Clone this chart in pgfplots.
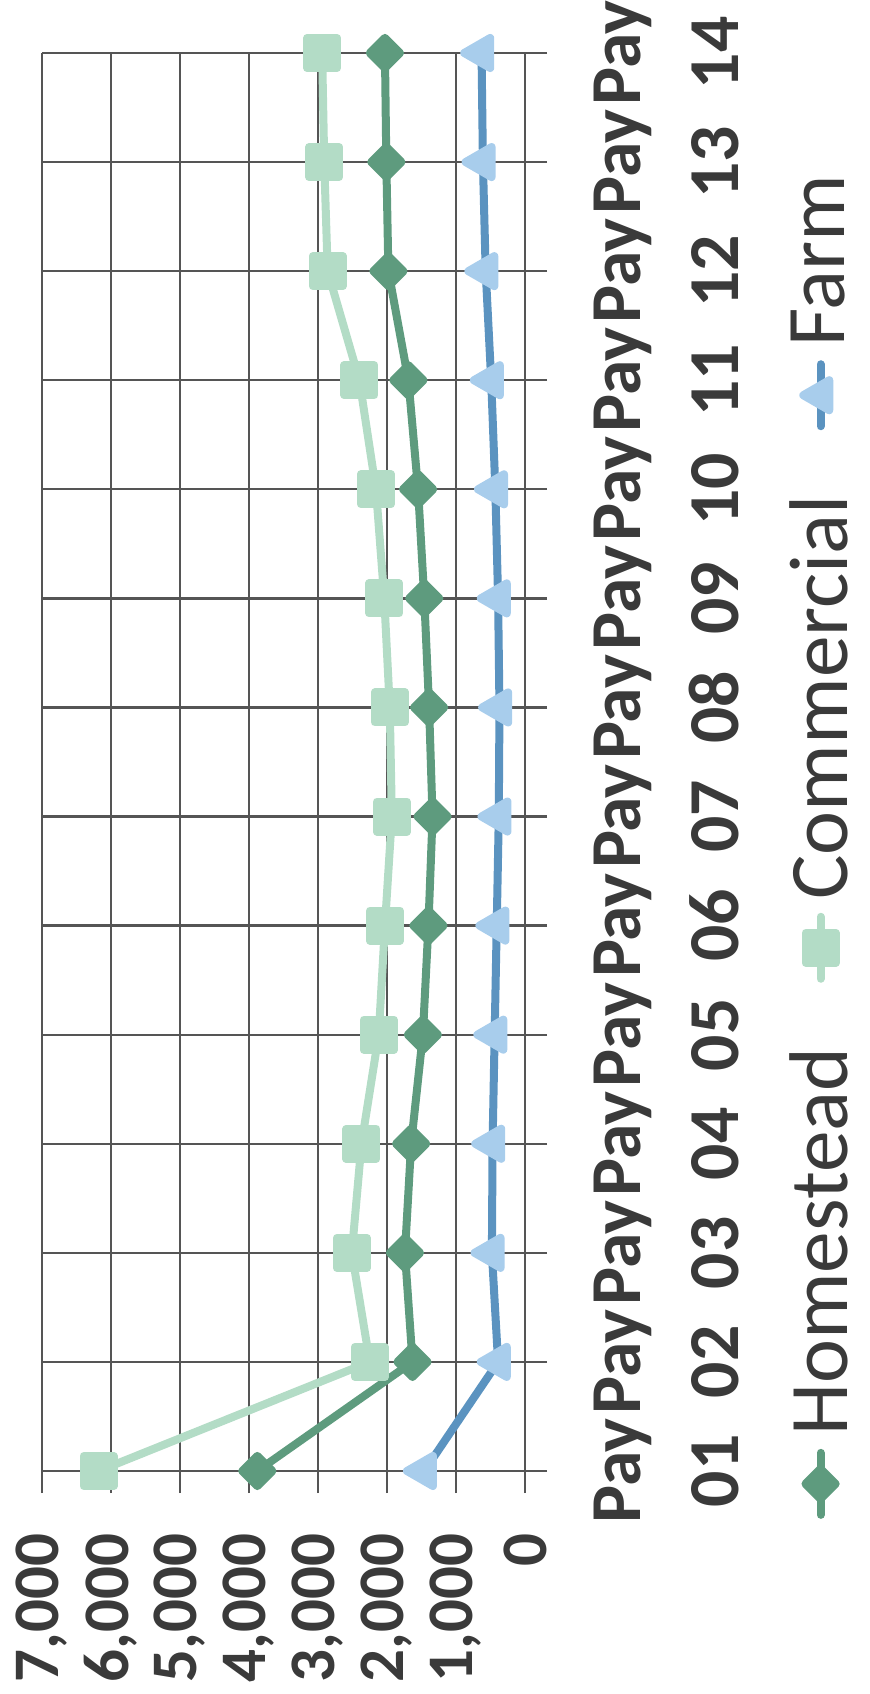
\documentclass[border=0pt]{standalone}
\usepackage{fontspec}
\setmainfont{Carlito}
\usepackage{graphicx}
\usepackage{pgfplots}
\pgfplotsset{compat=1.18}
\definecolor{homestead}{HTML}{5E9B7E}
\definecolor{commercial}{HTML}{B3DCC6}
\definecolor{farmline}{HTML}{5B93C0}
\definecolor{farmmark}{HTML}{A8CDEC}
\definecolor{gridgray}{HTML}{555555}
\definecolor{textgray}{HTML}{3A3A3A}
\begin{document}
% the scanned chart lies on its side: draw it upright, then turn it
\rotatebox{90}{%
\begin{tikzpicture}
\begin{axis}[
  at={(0pt,0pt)}, anchor=south west,
  scale only axis, width=425.4pt, height=144.9pt,
  xmin=1, xmax=14, ymin=0, ymax=7000,
  xtick={1,...,14},
  xticklabels={Pay\\01,Pay\\02,Pay\\03,Pay\\04,Pay\\05,Pay\\06,Pay\\07,Pay\\08,Pay\\09,Pay\\10,Pay\\11,Pay\\12,Pay\\13,Pay\\14},
  ytick={0,1000,...,7000},
  yticklabels={0,{1,000},{2,000},{3,000},{4,000},{5,000},{6,000},{7,000}},
  axis x line*=bottom, axis y line*=left,
  axis line style={gridgray, line width=0.7pt, -},
  grid=major, grid style={gridgray, line width=0.7pt},
  tick align=outside, major tick length=6.6pt,
  tick style={gridgray, line width=0.7pt},
  xticklabel style={font=\fontsize{21.5}{29.4}\selectfont\bfseries, text=textgray,
    align=center, anchor=north, inner sep=0pt, yshift=-13.8pt},
  yticklabel style={font=\fontsize{19.5}{23}\selectfont\bfseries, text=textgray,
    anchor=east, inner sep=0pt, xshift=-12pt},
  clip=false,
  legend style={at={(0.440,-0.612)}, anchor=center, draw=none, fill=none,
    font=\fontsize{25}{30}\selectfont, text=textgray,
    legend columns=-1, nodes={inner sep=0pt},
    /tikz/every odd column/.append style={column sep=4pt},
    /tikz/every even column/.append style={column sep=19.5pt}},
  legend image code/.code={\draw[mark repeat=2, mark phase=2, line cap=round, #1]
    plot coordinates {(0pt,0pt) (9.3pt,0pt) (18.6pt,0pt)};},
]
\addplot[homestead, line width=2.4pt, line join=round,
  mark=square*, mark size=3.2pt, mark options={solid, rotate=45, fill=homestead, draw=homestead}]
  coordinates {(1,3880) (2,1630) (3,1740) (4,1650) (5,1480) (6,1400) (7,1340)
               (8,1390) (9,1460) (10,1550) (11,1690) (12,1980) (13,2010) (14,2030)};
\addlegendentry{Homestead}
\addplot[commercial, line width=2.4pt, line join=round,
  mark=square*, mark size=4.5pt, mark options={solid, fill=commercial, draw=commercial}]
  coordinates {(1,6180) (2,2250) (3,2510) (4,2370) (5,2120) (6,2030) (7,1930)
               (8,1960) (9,2040) (10,2160) (11,2400) (12,2860) (13,2910) (14,2940)};
\addlegendentry{Commercial}
\addplot[farmline, line width=2.4pt, line join=round,
  mark=triangle*, mark size=5.2pt, mark options={solid, fill=farmmark, draw=farmmark}]
  coordinates {(1,1460) (2,390) (3,480) (4,470) (5,440) (6,410) (7,380)
               (8,370) (9,390) (10,430) (11,490) (12,570) (13,610) (14,630)};
\addlegendentry{Farm}
\end{axis}
\pgfresetboundingbox
\path (-66.9pt,-103.5pt) rectangle (441.3pt,157.5pt);
\end{tikzpicture}}
\end{document}
